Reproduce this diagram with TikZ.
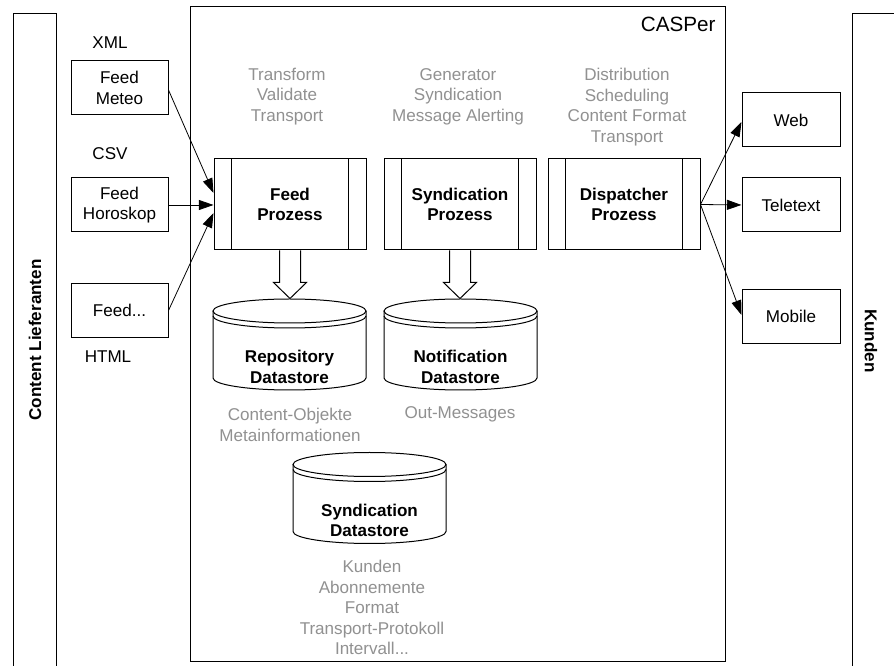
\documentclass[tikz,border=0pt]{standalone}
\usepackage{fontspec}
\setmainfont{Liberation Sans}
\usetikzlibrary{arrows.meta,calc}
\definecolor{txtgray}{RGB}{145,145,145}
\newcommand\fs{\fontsize{12.8}{15.4}\selectfont}
\newcommand\dstore[4]{%
  \begin{scope}[shift={(#2,#3)}]
    \filldraw[fill=white] (-76.5,-33.5) -- (-76.5,33.5)
      arc[start angle=180,end angle=0,x radius=76.5,y radius=12] -- (76.5,-33.5);
    \draw (0,-33.5) ellipse[x radius=76.5,y radius=12];
    \draw (-76.5,-28.5) arc[start angle=180,end angle=0,x radius=76.5,y radius=12];
  \end{scope}
  \node[boldtxt] (#1) at (#2,#3+22.5) {#4};
}
\newcommand\blockarrow[1]{%
  \filldraw[fill=white] ($(#1.south)+(-10.5,0)$) -- ++(0,32) -- ++(-6,0) -- ++(16.5,16) -- ++(16.5,-16) -- ++(-6,0) -- ++(0,-32);
}
\begin{document}
\begin{tikzpicture}[x=0.75pt,y=-0.75pt,line width=0.75pt,
  every node/.style={font=\fs, align=center, inner sep=0pt},
  boldtxt/.style={font=\fs\bfseries},
  graytxt/.style={text=txtgray},
  feedbox/.style={draw, minimum width=97*0.75pt, minimum height=54*0.75pt},
  procbox/.style={draw, minimum width=152*0.75pt, minimum height=91*0.75pt, font=\fs\bfseries},
  conn/.style={-{Triangle[length=11pt,width=7.5pt]}, line width=0.6pt}]
\useasboundingbox (0,0) rectangle (894,666);
\fill[white] (0,0) rectangle (894,666);
% bands
\draw (13,666) -- (13,14) -- (56,14) -- (56,666);
\draw (852,666) -- (852,14) -- (894,14);
\node[boldtxt, rotate=90] (lief) at (35,340) {Content Lieferanten};
\node[boldtxt, rotate=-90] (kunden) at (871,341) {Kunden};
% CASPer
\draw (190,7) rectangle (725,662);
\node[anchor=east, font=\fontsize{15.5}{18}\selectfont] (casper) at (716,24) {CASPer};
% feed boxes
\node[feedbox] (meteo) at (119.5,88) {Feed\\Meteo};
\node[feedbox] (horo) at (119.5,205) {Feed\\Horoskop};
\node[feedbox] (feedx) at (119.5,310.5) {Feed...};
\node (xml) at (110,43) {XML};
\node (csv) at (110,154) {CSV};
\node (html) at (108,357) {HTML};
% processes
\node[procbox] (feedp) at (290,204.5) {Feed\\Prozess};
\node[procbox] (syndp) at (460,204.5) {Syndication\\Prozess};
\node[procbox] (dispp) at (624,204.5) {Dispatcher\\Prozess};
\foreach \p in {feedp,syndp,dispp}{
  \draw ($(\p.north west)+(18,0)$) -- ($(\p.south west)+(18,0)$);
  \draw ($(\p.north east)+(-18,0)$) -- ($(\p.south east)+(-18,0)$);
}
% gray descriptions
\node[graytxt] (tvt) at (287,96.5) {Transform\\Validate\\Transport};
\node[graytxt] (gsm) at (458,96.5) {Generator\\Syndication\\Message Alerting};
\node[graytxt] (dsc) at (627,107) {Distribution\\Scheduling\\Content Format\\Transport};
% datastores
\dstore{repo}{289.5}{344.5}{Repository\\Datastore}
\dstore{notif}{460.5}{344.5}{Notification\\Datastore}
\dstore{synds}{369.5}{498}{Syndication\\Datastore}
\node[graytxt] (coo) at (290,425) {Content-Objekte\\Metainformationen};
\node[graytxt] (outm) at (460,414.5) {Out-Messages};
\node[graytxt] (kal) at (372,607.5) {Kunden\\Abonnemente\\Format\\Transport-Protokoll\\Intervall...};
% block arrows
\blockarrow{feedp}
\blockarrow{syndp}
% output boxes
\node[feedbox, minimum width=98*0.75pt] (web) at (791,120) {Web};
\node[feedbox, minimum width=98*0.75pt] (tele) at (791,205) {Teletext};
\node[feedbox, minimum width=98*0.75pt] (mobile) at (791,316.5) {Mobile};
% connectors
\draw[conn] ($(meteo.east)+(0,2)$) -- ($(feedp.west)+(0,-11.5)$);
\draw[conn] (horo.east) -- ($(feedp.west)+(0,0.5)$);
\draw[conn] (feedx.east) -- ($(feedp.west)+(0,8.5)$);
\draw[conn] (dispp.east) -- ($(web.west)+(0,2)$);
\draw[conn] (dispp.east) -- (tele.west);
\draw[conn] (dispp.east) -- ($(mobile.west)+(0,-1.5)$);
\end{tikzpicture}
\end{document}
